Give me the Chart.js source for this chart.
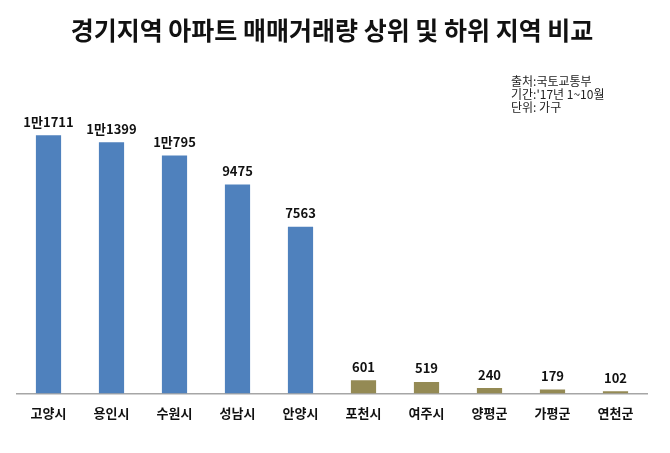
<!DOCTYPE html>
<html>
<head>
<meta charset="utf-8">
<script src="https://cdn.jsdelivr.net/npm/chart.js@4"></script>
<style>
    html, body { margin: 0; padding: 0; background: #fff; }
    #wrap { width: 670px; height: 453px; position: relative; }
</style>
</head>
<body>
<div id="wrap"><canvas id="barGraph" width="670" height="453"></canvas></div>
<script>
const regions = ['고양시', '용인시', '수원시', '성남시', '안양시', '포천시', '여주시', '양평군', '가평군', '연천군'];
const volumes = [11711, 11399, 10795, 9475, 7563, 601, 519, 240, 179, 102];
const valueLabels = ['1만1711', '1만1399', '1만795', '9475', '7563', '601', '519', '240', '179', '102'];
const titleText = '경기지역 아파트 매매거래량 상위 및 하위 지역 비교';
const noteLines = ['출처:국토교통부', "기간:'17년 1~10월", '단위: 가구'];

const topColor = '#4F81BD';
const bottomColor = '#948A54';
const fontKR = '"Noto Sans CJK KR", "Noto Sans", sans-serif';

// value labels above bars + the source note
const labelPlugin = {
    id: 'labelPlugin',
    afterDatasetsDraw(chart) {
        const ctx = chart.ctx;
        const meta = chart.getDatasetMeta(0);
        ctx.save();
        ctx.fillStyle = '#111';
        ctx.font = 'bold 13px ' + fontKR;
        ctx.textAlign = 'center';
        ctx.textBaseline = 'bottom';
        meta.data.forEach((bar, i) => {
            ctx.fillText(valueLabels[i], bar.x, bar.y - 7);
        });
        ctx.font = '12px ' + fontKR;
        ctx.textAlign = 'left';
        ctx.textBaseline = 'middle';
        ctx.fillStyle = '#222';
        noteLines.forEach((line, i) => {
            ctx.fillText(line, 511, 81 + i * 13);
        });
        ctx.restore();
    }
};

document.addEventListener('DOMContentLoaded', () => {
    const ctx = document.getElementById('barGraph').getContext('2d');
    new Chart(ctx, {
        type: 'bar',
        data: {
            labels: regions,
            datasets: [{
                data: volumes,
                backgroundColor: volumes.map((v, i) => i < 5 ? topColor : bottomColor),
                borderWidth: 0,
                barPercentage: 0.8,
                categoryPercentage: 0.5
            }]
        },
        options: {
            responsive: false,
            animation: false,
            layout: {
                padding: { left: 17, right: 23, top: 0, bottom: 20 }
            },
            scales: {
                x: {
                    grid: { display: false, drawTicks: false },
                    border: { display: true, color: '#A6A6A6', width: 1.5 },
                    ticks: {
                        color: '#111',
                        padding: 12,
                        font: { family: fontKR, size: 13, weight: 'bold' }
                    }
                },
                y: {
                    display: false,
                    min: 0,
                    max: 13900
                }
            },
            plugins: {
                legend: { display: false },
                tooltip: { enabled: false },
                title: {
                    display: true,
                    text: titleText,
                    color: '#111',
                    font: { family: fontKR, size: 25, weight: 'bold' },
                    padding: { top: 15, bottom: 42 }
                }
            }
        },
        plugins: [labelPlugin]
    });
});
</script>
</body>
</html>
